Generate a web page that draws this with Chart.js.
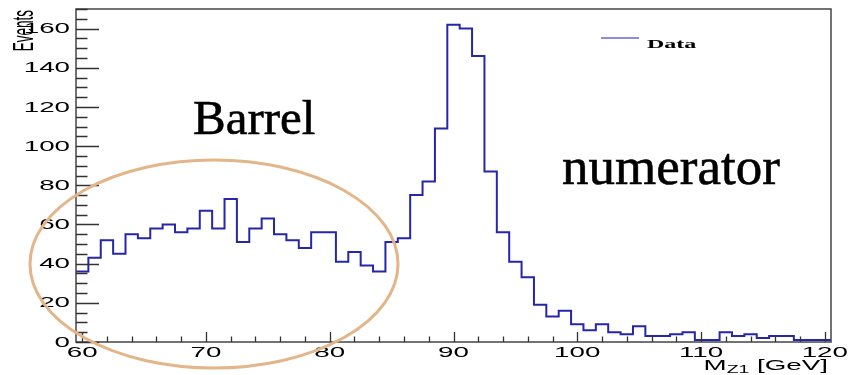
<!DOCTYPE html>
<html>
<head>
<meta charset="utf-8">
<script src="https://cdn.jsdelivr.net/npm/chart.js@4/dist/chart.umd.min.js"></script>
<style>
  html, body { margin: 0; padding: 0; background: #fff; }
  canvas { display: block; }
</style>
</head>
<body>
<canvas id="chart" width="850" height="375"></canvas>
<script>
// Z1 candidate mass, 1 GeV bins (bin centres)
const massBins = [60, 61, 62, 63, 64, 65, 66, 67, 68, 69,
                  70, 71, 72, 73, 74, 75, 76, 77, 78, 79,
                  80, 81, 82, 83, 84, 85, 86, 87, 88, 89,
                  90, 91, 92, 93, 94, 95, 96, 97, 98, 99,
                  100, 101, 102, 103, 104, 105, 106, 107, 108, 109,
                  110, 111, 112, 113, 114, 115, 116, 117, 118, 119, 120];
// Events per bin
const events = [36, 43, 52, 45, 55, 53, 58, 60, 56, 58,
                67, 58, 73, 51, 58, 63, 55, 52, 48, 56,
                56, 41, 46, 39, 36, 51, 53, 75, 82, 109,
                162, 160, 146, 87, 56, 41, 33, 19, 13, 16,
                9, 6, 9, 5, 4, 8, 3, 3, 4, 5,
                1, 1, 5, 3, 4, 2, 3, 3, 1, 1, 1];
const yTickLabels = [0, 20, 40, 60, 80, 100, 120, 140, 160];
const xTickLabels = [60, 70, 80, 90, 100, 110, 120];
const seriesName = 'Data';
const binWidth = 1;

// Histogram outline: one point per lower bin edge, plus the closing edge
const stepPoints = massBins.map((m, i) => ({ x: m - binWidth / 2, y: events[i] }));
stepPoints.push({ x: massBins[massBins.length - 1] + binWidth / 2, y: events[events.length - 1] });

const SANS = '"Liberation Sans", Arial, Helvetica, sans-serif';
const SERIF = '"Liberation Serif", "Times New Roman", serif';
const LABEL_STRETCH = 1.85;

function wideText(ctx, text, x, y, font, sx, align, baseline) {
  ctx.save();
  ctx.translate(x, y);
  ctx.scale(sx, 1);
  ctx.font = font;
  ctx.textAlign = align;
  ctx.textBaseline = baseline;
  ctx.fillText(text, 0, 0);
  ctx.restore();
}

function wideWidth(ctx, text, font, sx) {
  ctx.save();
  ctx.font = font;
  const w = ctx.measureText(text).width * sx;
  ctx.restore();
  return w;
}

// Frame, inward ticks, labels, titles, legend and notes in the style of a ROOT canvas
const rootFrame = {
  id: 'rootFrame',
  afterDatasetsDraw(chart) {
    const { ctx, chartArea: a, scales: { x, y } } = chart;
    ctx.save();

    // frame
    ctx.strokeStyle = '#444';
    ctx.lineWidth = 1.5;
    ctx.strokeRect(a.left, a.top, a.right - a.left, a.bottom - a.top);

    // y ticks (major every 20, minor every 5), drawn inward
    ctx.strokeStyle = '#333';
    ctx.lineWidth = 1.3;
    ctx.beginPath();
    for (let v = 0; v <= y.max + 1e-9; v += 5) {
      const py = Math.round(y.getPixelForValue(v)) + 0.5;
      const len = (v % 20 === 0) ? 23 : 11.5;
      ctx.moveTo(a.left, py);
      ctx.lineTo(a.left + len, py);
    }
    // x ticks (major every 10, minor every 2), drawn inward
    for (let v = xTickLabels[0]; v <= xTickLabels[xTickLabels.length - 1] + 1e-9; v += 2) {
      const px = Math.round(x.getPixelForValue(v)) + 0.5;
      const len = (v % 10 === 0) ? 10 : 5.5;
      ctx.moveTo(px, a.bottom);
      ctx.lineTo(px, a.bottom - len);
    }
    ctx.stroke();

    // tick labels
    ctx.fillStyle = '#000';
    const tickFont = '15px ' + SANS;
    yTickLabels.forEach(v => {
      wideText(ctx, String(v), a.left - 6, y.getPixelForValue(v) + 0.5, tickFont, LABEL_STRETCH, 'right', 'middle');
    });
    xTickLabels.forEach(v => {
      wideText(ctx, String(v), x.getPixelForValue(v), a.bottom + 15, tickFont, LABEL_STRETCH, 'center', 'alphabetic');
    });

    // y title
    ctx.save();
    ctx.translate(33, a.top + 1);
    ctx.scale(2.2, 1);
    ctx.rotate(-Math.PI / 2);
    ctx.font = '13.5px ' + SANS;
    ctx.textAlign = 'right';
    ctx.textBaseline = 'alphabetic';
    ctx.fillText('Events', 0, 0);
    ctx.restore();

    // x title: M_{Z1} [GeV]
    const mainFont = '15px ' + SANS;
    const subFont = '10.5px ' + SANS;
    const wM = wideWidth(ctx, 'M', mainFont, LABEL_STRETCH);
    const wSub = wideWidth(ctx, 'Z1', subFont, LABEL_STRETCH);
    const wUnit = wideWidth(ctx, ' [GeV]', mainFont, LABEL_STRETCH);
    let tx = a.right - 3 - (wM + wSub + wUnit);
    const ty = a.bottom + 28;
    wideText(ctx, 'M', tx, ty, mainFont, LABEL_STRETCH, 'left', 'alphabetic');
    tx += wM;
    wideText(ctx, 'Z1', tx, ty + 3, subFont, LABEL_STRETCH, 'left', 'alphabetic');
    tx += wSub;
    wideText(ctx, ' [GeV]', tx, ty, mainFont, LABEL_STRETCH, 'left', 'alphabetic');

    // legend
    ctx.strokeStyle = '#6666dd';
    ctx.lineWidth = 1.5;
    ctx.beginPath();
    ctx.moveTo(601, 38);
    ctx.lineTo(639, 38);
    ctx.stroke();
    wideText(ctx, seriesName, 647, 47.5, 'bold 12px ' + SERIF, 2.0, 'left', 'alphabetic');

    // notes
    ctx.fillStyle = '#000';
    ctx.strokeStyle = '#000';
    ctx.lineWidth = 0.6;
    ctx.textAlign = 'left';
    ctx.textBaseline = 'alphabetic';
    ctx.font = '49px ' + SERIF;
    ctx.fillText('Barrel', 193, 134);
    ctx.strokeText('Barrel', 193, 134);
    ctx.font = '53px ' + SERIF;
    ctx.fillText('numerator', 562, 184);
    ctx.strokeText('numerator', 562, 184);

    // ring round the low-mass region
    ctx.strokeStyle = '#e3b689';
    ctx.lineWidth = 3;
    ctx.beginPath();
    ctx.ellipse(214, 264, 184, 104, 0, 0, Math.PI * 2);
    ctx.stroke();

    ctx.restore();
  }
};

new Chart(document.getElementById('chart'), {
  type: 'line',
  data: {
    datasets: [{
      label: seriesName,
      data: stepPoints,
      stepped: 'before',
      borderColor: '#2626aa',
      borderWidth: 2,
      pointRadius: 0,
      fill: false
    }]
  },
  options: {
    responsive: false,
    animation: false,
    layout: { padding: { left: 76, right: 19, top: 9, bottom: 33 } },
    plugins: { legend: { display: false }, tooltip: { enabled: false } },
    scales: {
      x: { type: 'linear', min: 59.5, max: 120.5, display: false },
      y: { type: 'linear', min: 0, max: 170, display: false }
    }
  },
  plugins: [rootFrame]
});
</script>
</body>
</html>
